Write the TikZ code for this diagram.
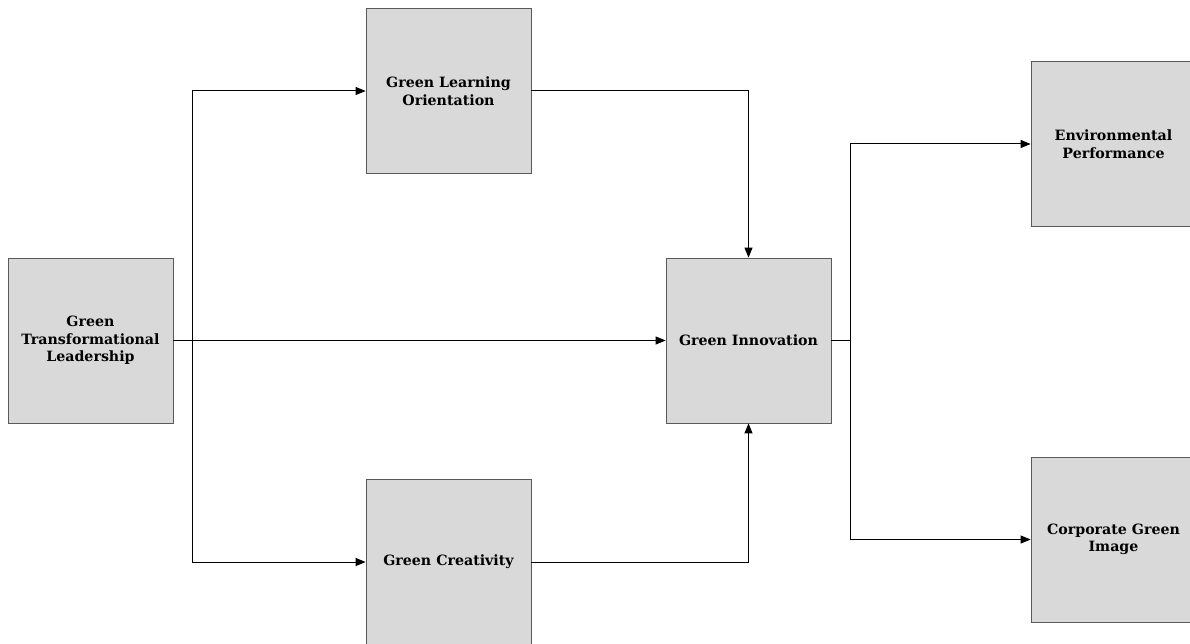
\documentclass[tikz,border=0pt]{standalone}
\usepackage{fontspec}
\setmainfont{DejaVu Serif}
\usetikzlibrary{arrows.meta}
\begin{document}
\begin{tikzpicture}[x=1pt,y=-1pt,
  box/.style={draw=black!65, line width=0.8pt, fill=black!15, minimum width=165pt, minimum height=165pt, inner sep=0pt, align=center, font=\fontsize{14.2}{17.5}\selectfont\bfseries, text=black},
  arr/.style={line width=1pt, -{Triangle[length=10pt,width=8pt]}},
  ln/.style={line width=1pt}]
\useasboundingbox (0,0) rectangle (1190,644);
\clip (0,0) rectangle (1190,644);
\node[box] (GTL) at (90.5,340.5) {Green\\Transformational\\Leadership};
\node[box] (GLO) at (448.5,91) {Green Learning\\Orientation};
\node[box] (GC) at (448.5,562) {Green Creativity};
\node[box] (GI) at (748.5,340.5) {Green Innovation};
\node[box] (EP) at (1113.5,144) {Environmental\\Performance};
\node[box] (CGI) at (1113.5,539.5) {Corporate Green\\Image};
\coordinate (s) at (192,340.5);
\coordinate (t) at (850,340.5);
\draw[arr] (GTL.east) -- (GI.west);
\draw[arr] (s) |- (GLO.west);
\draw[arr] (s) |- (GC.west);
\draw[arr] (GLO.east) -| (GI.north);
\draw[arr] (GC.east) -| (GI.south);
\draw[ln] (GI.east) -- (t);
\draw[arr] (t) |- (EP.west);
\draw[arr] (t) |- (CGI.west);
\end{tikzpicture}
\end{document}
